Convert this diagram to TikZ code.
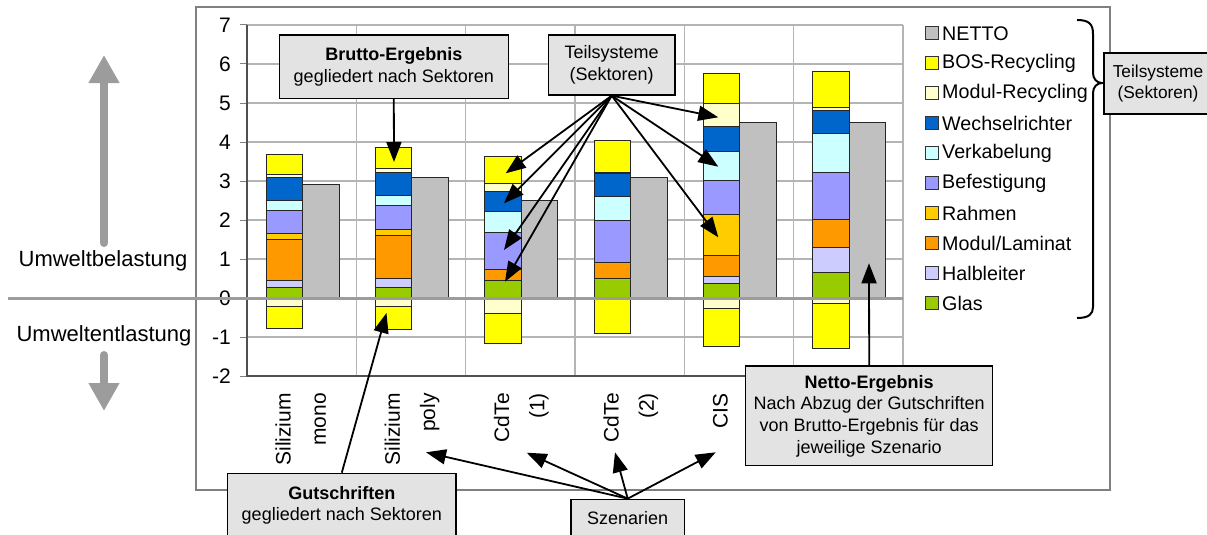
\documentclass[tikz,border=0pt]{standalone}
\usepackage{fontspec}
\setmainfont{Liberation Sans}
\usetikzlibrary{arrows.meta}

\definecolor{cGlas}{HTML}{99CC00}
\definecolor{cHalb}{HTML}{CCCCFF}
\definecolor{cModul}{HTML}{FF9900}
\definecolor{cRahmen}{HTML}{FFCC00}
\definecolor{cBefest}{HTML}{9999FF}
\definecolor{cVerkab}{HTML}{CCFFFF}
\definecolor{cWechsel}{HTML}{0066CC}
\definecolor{cModRec}{HTML}{FFFFCC}
\definecolor{cBOS}{HTML}{FFFF00}
\definecolor{cNetto}{HTML}{C0C0C0}
\definecolor{gridgray}{HTML}{B4B4B4}
\definecolor{framegray}{HTML}{808080}
\definecolor{axisgray}{HTML}{505050}
\definecolor{boxfill}{HTML}{E3E3E3}
\definecolor{bigarrow}{HTML}{9C9C9C}

\tikzset{
  barline/.style={draw=black!85, line width=0.9pt},
  callout/.style={draw=black, line width=1.3pt, fill=boxfill, align=center,
    inner sep=0pt, font=\fontsize{18}{21.7}\selectfont},
  arr/.style={line width=1.8pt, -{Triangle[length=20pt,width=15pt]}},
  grayarr/.style={draw=bigarrow, line width=8pt, line cap=round,
    -{Triangle[length=28pt,width=29pt]}},
  ticklab/.style={anchor=east, inner sep=0pt, font=\fontsize{21}{25}\selectfont},
  catlab/.style={rotate=90, anchor=east, inner sep=0pt, font=\fontsize{21}{25}\selectfont},
  legmark/.style={draw=black!80, line width=0.8pt, minimum width=13pt,
    minimum height=13pt, inner sep=0pt},
  legtext/.style={anchor=west, inner sep=0pt, font=\fontsize{19.7}{23}\selectfont},
  sidelab/.style={inner sep=0pt, font=\fontsize{22}{26}\selectfont},
  gridline/.style={draw=gridgray, line width=1.1pt},
}

% one scenario: stacked gross bar (9 sectors), credits below zero, net bar
% #1 index, #2 cumulative bounds, #3 module-recycling credit, #4 total credit, #5 net
\newcommand\stackcol[5]{%
  \pgfmathsetmacro\colx{247+109.333*(#1-1)}%
  \filldraw[barline,fill=cNetto] ({\colx+55.5},298) rectangle ({\colx+92},{298-39*#5});
  \foreach \segcol [count=\i] in {cGlas,cHalb,cModul,cRahmen,cBefest,cVerkab,cWechsel,cModRec,cBOS}{%
    \pgfmathsetmacro\lo{{#2}[\i-1]}%
    \pgfmathsetmacro\hi{{#2}[\i]}%
    \filldraw[barline,fill=\segcol] ({\colx+19},{298-39*\lo}) rectangle ({\colx+55.5},{298-39*\hi});
  }
  \filldraw[barline,fill=cModRec] ({\colx+19},298) rectangle ({\colx+55.5},{298+39*#3});
  \filldraw[barline,fill=cBOS] ({\colx+19},{298+39*#3}) rectangle ({\colx+55.5},{298+39*#4});
}

\begin{document}
\begin{tikzpicture}[x=1pt,y=-1pt]
\useasboundingbox (0,0) rectangle (1207,535);
\fill[white] (0,0) rectangle (1207,535);

% outer chart frame
\draw[framegray, line width=1.3pt] (196,7) rectangle (1110,490);

% grid
\foreach \v in {-2,...,7} \draw[gridline] (247,{298-39*\v}) -- (903,{298-39*\v});
\foreach \k in {1,...,6} \draw[gridline] ({247+109.333*\k},25) -- ({247+109.333*\k},376);
\foreach \v in {-2,...,7} \draw[framegray, line width=1pt] (240,{298-39*\v}) -- (247,{298-39*\v});

% tick labels
\foreach \v in {-2,...,7} \node[ticklab] (tick\v) at (231,{298-39*\v}) {\v};

% bars
\stackcol{1}{0,0.27,0.45,1.49,1.65,2.24,2.50,3.08,3.17,3.67}{0.21}{0.78}{2.90}
\stackcol{2}{0,0.28,0.49,1.60,1.76,2.38,2.64,3.23,3.31,3.85}{0.21}{0.80}{3.08}
\stackcol{3}{0,0.46,0.46,0.74,0.74,1.69,2.21,2.74,2.93,3.64}{0.39}{1.16}{2.49}
\stackcol{4}{0,0.50,0.50,0.90,0.90,2.00,2.60,3.19,3.21,4.03}{0.02}{0.91}{3.08}
\stackcol{5}{0,0.38,0.56,1.10,2.13,3.01,3.75,4.39,4.99,5.76}{0.27}{1.25}{4.49}
\stackcol{6}{0,0.65,1.30,2.01,2.01,3.21,4.21,4.80,4.88,5.82}{0.15}{1.30}{4.50}

% axes
\draw[axisgray, line width=1.1pt] (247,25) -- (247,376) -- (903,376);
\draw[bigarrow, line width=3pt] (8,298) -- (903,298);

% category labels
\node[catlab] (c1a) at (283,393) {Silizium};
\node[catlab] (c1b) at (320.4,393) {mono};
\node[catlab] (c2a) at (392.3,393) {Silizium};
\node[catlab] (c2b) at (429.7,393) {poly};
\node[catlab] (c3a) at (501.6,393) {CdTe};
\node[catlab] (c3b) at (539,393) {(1)};
\node[catlab] (c4a) at (611,393) {CdTe};
\node[catlab] (c4b) at (648.4,393) {(2)};
\node[catlab] (c5a) at (720.3,393) {CIS};

% legend
\foreach \col/\lab [count=\i] in {cNetto/NETTO, cBOS/BOS-Recycling, cModRec/Modul-Recycling,
    cWechsel/Wechselrichter, cVerkab/Verkabelung, cBefest/Befestigung, cRahmen/Rahmen,
    cModul/{Modul/Laminat}, cHalb/Halbleiter, cGlas/Glas}{%
  \node[legmark, fill=\col] (legm\i) at (932,{33.3+30*(\i-1)}) {};
  \node[legtext] (legt\i) at (942,{33.3+30*(\i-1)}) {\lab};
}

% brace around the legend
\draw[line width=2pt] (1077,20) .. controls (1089,20) and (1093,24) .. (1093,34)
  -- (1093,73) .. controls (1093,79) and (1097,83) .. (1102,83)
  .. controls (1097,83) and (1093,87) .. (1093,93)
  -- (1093,307) .. controls (1093,314) and (1089,318) .. (1077,318);

% left side: load / relief
\node[sidelab] (bel) at (103,260.7) {Umweltbelastung};
\node[sidelab] (ent) at (104,336) {Umweltentlastung};
\coordinate (upA) at (104,243);
\coordinate (upB) at (104,55);
\coordinate (dnA) at (104,355);
\coordinate (dnB) at (104,411);
\draw[grayarr] (upA) -- (upB);
\draw[grayarr] (dnA) -- (dnB);

% arrow targets
\coordinate (bTop) at (394,162);
\coordinate (t1) at (505.7,173.3);
\coordinate (t2) at (504,203.3);
\coordinate (t3) at (504,250);
\coordinate (t4) at (505,281.7);
\coordinate (t5) at (718.3,117.3);
\coordinate (t6) at (718.3,166.7);
\coordinate (t7) at (718.3,237.3);
\coordinate (gTip) at (386.5,313);
\coordinate (nTip) at (869,263.3);
\coordinate (s1) at (426,452.3);
\coordinate (s2) at (526.7,452.7);
\coordinate (s3) at (615,452.3);
\coordinate (s4) at (715.7,452.3);

% callouts
\node[callout, minimum width=229pt, minimum height=63.3pt] (brutto) at (393.8,66.7)
  {\textbf{Brutto-Ergebnis}\\gegliedert nach Sektoren};
\node[callout, minimum width=126.7pt, minimum height=60pt] (teil) at (611.7,65)
  {Teilsysteme\\(Sektoren)};
\node[callout, minimum width=108pt, minimum height=61pt, font=\fontsize{17.3}{21.3}\selectfont]
  (teilR) at (1158,83.5) {Teilsysteme\\(Sektoren)};
\node[callout, minimum width=247pt, minimum height=99.7pt] (netto) at (869.2,415.9)
  {\textbf{Netto-Ergebnis}\\Nach Abzug der Gutschriften\\von Brutto-Ergebnis für das\\jeweilige Szenario};
\node[callout, minimum width=228.3pt, minimum height=64pt] (gut) at (341.8,505.3)
  {\textbf{Gutschriften}\\gegliedert nach Sektoren};
\node[callout, minimum width=113.3pt, minimum height=38pt] (szen) at (627.7,518.3)
  {Szenarien};

% connectors
\draw[arr] (brutto.south) -- (bTop);
\foreach \t in {t1,t2,t3,t4,t5,t6,t7} \draw[arr] (teil.south) -- (\t);
\draw[arr] (gut.north) -- (gTip);
\draw[arr] (netto.north) -- (nTip);
\foreach \s in {s1,s2,s3,s4} \draw[arr] (szen.north) -- (\s);
\end{tikzpicture}
\end{document}
